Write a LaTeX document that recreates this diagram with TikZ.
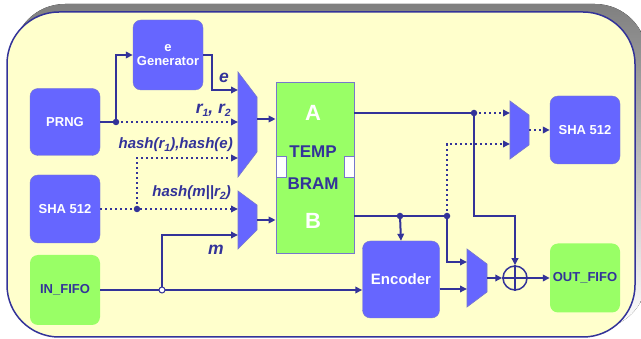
\documentclass[tikz,border=0pt]{standalone}
\usepackage{fontspec}
\setmainfont{Liberation Sans}
\usetikzlibrary{arrows.meta}
\definecolor{navy}{HTML}{333399}
\definecolor{panel}{HTML}{FFFFCC}
\definecolor{shade}{HTML}{AAAAEE}
\definecolor{blu}{HTML}{6666FF}
\definecolor{grn}{HTML}{99FF66}
\definecolor{edge}{HTML}{7777CC}
\newcommand{\lsub}[1]{\raisebox{-0.35ex}{\fontsize{10.5}{10.5}\selectfont #1}}
\tikzset{
  unit/.style={draw=edge, fill=blu, rounded corners=8pt, text=white, align=center, inner sep=0pt,
    font=\bfseries\fontsize{13}{14}\selectfont},
  fifo/.style={fill=grn, rounded corners=8pt, text=navy, inner sep=0pt,
    font=\bfseries\fontsize{13}{14}\selectfont},
  wire/.style={navy, line width=2pt},
  dotwire/.style={navy, line width=2.2pt, dash pattern=on 2.2pt off 2.8pt},
  lbl/.style={text=navy, inner sep=0pt, font=\bfseries\itshape\fontsize{15}{15}\selectfont},
  biglbl/.style={lbl, font=\bfseries\itshape\fontsize{17.5}{17.5}\selectfont},
  mux/.style={fill=blu, draw=edge, line width=0.6pt},
  joint/.style={circle, fill=navy, inner sep=0pt, minimum size=6.5pt},
}
\begin{document}
\begin{tikzpicture}[x=1pt, y=-1pt, >={Triangle[length=7pt,width=6.5pt]}]
\useasboundingbox (0,0) rectangle (641,339);
% panel
\fill[shade, rounded corners=52pt] (13,4) rectangle (647,329);
\filldraw[fill=panel, draw=navy, line width=1.5pt, rounded corners=52pt] (7,12) rectangle (635,337);

% blocks
\node[unit, minimum width=70pt, minimum height=70pt] (egen) at (168,55) {e\\Generator};
\node[unit, minimum width=70pt, minimum height=67pt] (prng) at (65,122) {PRNG};
\node[unit, minimum width=70pt, minimum height=68pt] (shain) at (65,209) {SHA 512};
\node[fifo, minimum width=70pt, minimum height=70pt] (infifo) at (65,290) {IN\_FIFO};
\node[unit, minimum width=70pt, minimum height=68pt] (shaout) at (585,130) {SHA 512};
\node[unit, minimum width=77pt, minimum height=77pt, font=\bfseries\fontsize{15}{16}\selectfont] (enc) at (401,279.5) {Encoder};
\node[fifo, minimum width=70pt, minimum height=69pt] (outfifo) at (585,278) {OUT\_FIFO};

% memory
\node[fill=grn, draw=edge, line width=0.8pt, minimum width=78pt, minimum height=171pt] (bram) at (315,167.5) {};
\node[fill=white, draw=edge, line width=0.8pt, minimum width=10pt, minimum height=21pt, inner sep=0pt] (portl) at (281,166.5) {};
\node[fill=white, draw=edge, line width=0.8pt, minimum width=10pt, minimum height=21pt, inner sep=0pt] (portr) at (349,166.5) {};
\node[text=white, font=\bfseries\fontsize{22}{22}\selectfont] (pta) at (313,113) {A};
\node[text=navy, font=\bfseries\fontsize{17}{17}\selectfont] (ttemp) at (313,152) {TEMP};
\node[text=navy, font=\bfseries\fontsize{17}{17}\selectfont] (tbram) at (313,184) {BRAM};
\node[text=white, font=\bfseries\fontsize{22}{22}\selectfont] (ptb) at (313,221) {B};

% multiplexers
\draw[mux] (238,72) -- (257,97) -- (257,152) -- (238,177) -- cycle;
\draw[mux] (238,191) -- (257,205) -- (257,230) -- (238,249) -- cycle;
\draw[mux] (510,101) -- (529,115) -- (529,145) -- (510,159) -- cycle;
\draw[mux] (467,249) -- (487,264) -- (487,292) -- (467,307) -- cycle;
\coordinate (m1a) at (238,90);
\coordinate (m1b) at (238,122);
\coordinate (m1c) at (238,158);
\coordinate (m1o) at (257,119);
\coordinate (m2a) at (238,209);
\coordinate (m2b) at (238,235);
\coordinate (m2o) at (257,220);
\coordinate (m3a) at (510,113);
\coordinate (m3b) at (510,144);
\coordinate (m3o) at (529,130);
\coordinate (m4a) at (467,262);
\coordinate (m4b) at (467,289);
\coordinate (m4o) at (487,278);

% xor
\node[circle, draw=navy, line width=1.5pt, minimum size=24pt, inner sep=0pt] (xor) at (515,278) {};
\draw[navy, line width=1.5pt] (xor.north) -- (xor.south) (xor.west) -- (xor.east);

% joints
\coordinate (jp) at (116,122);
\coordinate (js) at (137,209);
\coordinate (ji) at (162,290);
\coordinate (pa) at (bram.east |- m3a);
\coordinate (pb) at (354,216);
\coordinate (ja) at (474,113);
\coordinate (jb1) at (400,216);
\coordinate (jb2) at (447,216);

% connections
\draw[wire] (prng.east |- jp) -- (jp);
\draw[wire, ->] (jp) |- (egen.west);
\draw[dotwire, ->] (jp) -- (m1b);
\draw[wire, ->] (egen.east) -- ++(9,0) |- (m1a);
\draw[dotwire, ->] (shain.east) -- (m2a);
\draw[dotwire, ->] (js) |- (m1c);
\draw[wire, ->] (infifo.east) -- (infifo.east -| enc.west);
\draw[wire, ->] (ji) |- (m2b);
\draw[wire, ->] (m1o) -- (bram.west |- m1o);
\draw[wire, ->] (m2o) -- (bram.west |- m2o);
\draw[wire] (pa) -- (ja);
\draw[dotwire, ->] (ja) -- (m3a);
\draw[wire, ->] (ja) -- (ja |- pb) -| (xor.north);
\draw[wire] (pb) -- (jb2);
\draw[wire, ->] (jb1) -- (enc.north);
\draw[dotwire, ->] (jb2) |- (m3b);
\draw[wire, ->] (jb2) |- (m4a);
\draw[wire, ->] (enc.east |- m4b) -- (m4b);
\draw[wire, ->] (m4o) -- (xor.west);
\draw[wire, ->] (xor.east) -- (outfifo.west);
\draw[dotwire, ->] (m3o) -- (shaout.west);

\node[joint] at (jp) {};
\node[joint] at (js) {};
\node[circle, fill=white, draw=navy, line width=1pt, inner sep=0pt, minimum size=6pt] at (ji) {};
\node[joint] at (ja) {};
\node[joint] at (jb1) {};
\node[joint] at (jb2) {};

% labels
\node[biglbl] (le) at (224,78) {e};
\node[biglbl, anchor=east] (lr) at (231,110) {r\lsub{1}, r\lsub{2}};
\node[lbl, anchor=east] (lh1) at (233,145) {hash(r\lsub{1}),hash(e)};
\node[lbl, anchor=east] (lh2) at (231,193) {hash(m||r\lsub{2})};
\node[biglbl] (lm) at (216,250) {m};
\end{tikzpicture}
\end{document}
